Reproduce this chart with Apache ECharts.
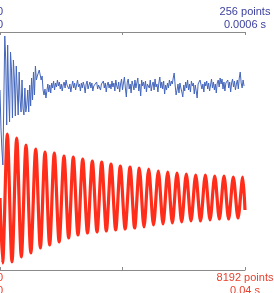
<!DOCTYPE html>
<html><head><meta charset="utf-8">
<script src="https://cdn.jsdelivr.net/npm/echarts@6/dist/echarts.min.js"></script>
<style>html,body{margin:0;padding:0;background:#fff}#c{width:274px;height:293px}</style>
</head><body><div id="c"></div>
<script>
// Blue trace: 256 samples (arbitrary units)
const blueValues = [
-4,-42,-64,-79,-14,50,26,-39,41,-9,-36,34,16,-32,26,8,-30,20,-4,-29,14,-14,-26,6,-22,-29,-2,-26,-19,-4,-26,1,-20,8,-14,14,-9,20,6,10,12,16,11,6,10,
-4,-9,-3,-12,-5,2,-6,1,-7,3,
-2,5,-4,3,-1,6,0,4,-3,2,
-5,1,4,-2,6,1,3,-3,2,-6,
0,5,-2,3,-4,1,6,-1,2,-5,
3,-2,4,0,-7,2,5,-3,1,4,
-2,3,-5,0,2,-1,4,-3,1,3,
-4,2,0,5,-2,3,-6,1,4,-2,
2,-3,5,-1,3,-5,6,0,-3,4,
-6,2,7,-4,3,9,-2,-11,4,7,
-3,2,-7,5,1,-4,6,-2,3,8,
-5,2,-10,6,0,4,-3,5,-6,2,
3,-2,6,-5,1,4,-4,7,-1,2,
-6,3,9,-2,4,-3,5,-8,1,-4,
3,-2,6,0,5,2,8,13,1,-9,
-4,2,-7,3,-2,-6,-11,1,-5,4,
-2,6,-4,2,-6,5,0,3,-8,1,
-5,-12,2,4,6,8,-3,2,-6,4,
0,5,-3,3,-5,1,7,-2,4,-4,
2,-7,3,6,-1,8,2,7,-3,4,
-5,3,1,6,-2,4,-6,3,7,-1,
5,-4,2,6,-3,8,14,3,-2,6,0
];
// Red trace: sample index / value of its turning points (8192 samples)
const redIndex = [0,87,244,401,558,714,870,1032,1194,1350,1505,1660,1816,1978,2140,2296,2451,2608,2766,2926,3087,3244,3401,3556,3712,3868,4023,4185,4347,4502,4658,4815,4972,5133,5294,5451,5608,5763,5919,6075,6230,6387,6544,6705,6866,7023,7180,7335,7490,7645,7801,7958,8116,8191];
const redValues = [0,-65,64,-64,60,-59,53,-55,49,-50,46,-47,45,-44,42,-40,41,-37,39,-35,37,-34,36,-33,34,-32,32,-31,31,-30,30,-29,29,-27,27,-26,26,-25,25,-24,24,-23,23,-23,23,-22,22,-21,22,-21,21,-20,21,-12];
const topTicks = {min:0, mid:128, max:256, minLabel:'0\n0', maxLabel:'256 points\n0.0006 s'};
const bottomTicks = {min:0, mid:4096, max:8192, minLabel:'0\n0', maxLabel:'8192 points\n0.04 s'};

const BLUE_TXT = '#3b3f9e', RED_TXT = '#e8402e';
const chart = echarts.init(document.getElementById('c'), null, {renderer:'canvas'});
function xAx(t, pos, col, margin){
  return {type:'value', position:pos, gridIndex:0, min:t.min, max:t.max, interval:t.mid,
    axisLine:{show:true, onZero:false, lineStyle:{color:'#8a8a8a', width:1}},
    axisTick:{show:true, inside:true, length:3, lineStyle:{color:'#8a8a8a'}},
    splitLine:{show:false},
    axisLabel:{show:true, showMinLabel:true, showMaxLabel:true, hideOverlap:false, color:col, fontSize:11,
      fontFamily:'Liberation Sans, Arial, sans-serif', lineHeight:12.5, margin:margin,
      formatter:function(v){ if(v===t.min) return t.minLabel; if(v===t.max) return t.maxLabel; return ''; }}
  };
}
chart.setOption({
  animation:false,
  grid:{left:0, right:29, top:32, bottom:23, containLabel:false, outerBoundsMode:'none'},
  xAxis:[xAx(topTicks,'top',BLUE_TXT,1), xAx(bottomTicks,'bottom',RED_TXT,2)],
  yAxis:[
    {type:'value', min:-184, max:54, show:true, axisLine:{show:false}, axisTick:{show:false}, axisLabel:{show:false}, splitLine:{show:false}},
    {type:'value', min:-72, max:166, show:true, axisLine:{show:false},
      axisTick:{show:true, inside:true, length:3, customValues:[0], lineStyle:{color:'#ff2d1a'}},
      axisLabel:{show:false}, splitLine:{show:false}}
  ],
  series:[
    {type:'line', xAxisIndex:1, yAxisIndex:1, data:redIndex.map((x,i)=>[x,redValues[i]]),
     showSymbol:false, smooth:0.3, lineStyle:{color:'#ff2d1a', width:3.2}, z:2},
    {type:'line', xAxisIndex:0, yAxisIndex:0, data:blueValues.map((v,i)=>[i,v]),
     showSymbol:false, lineStyle:{color:'#4466bb', width:1}, z:3}
  ]
});
</script></body></html>
